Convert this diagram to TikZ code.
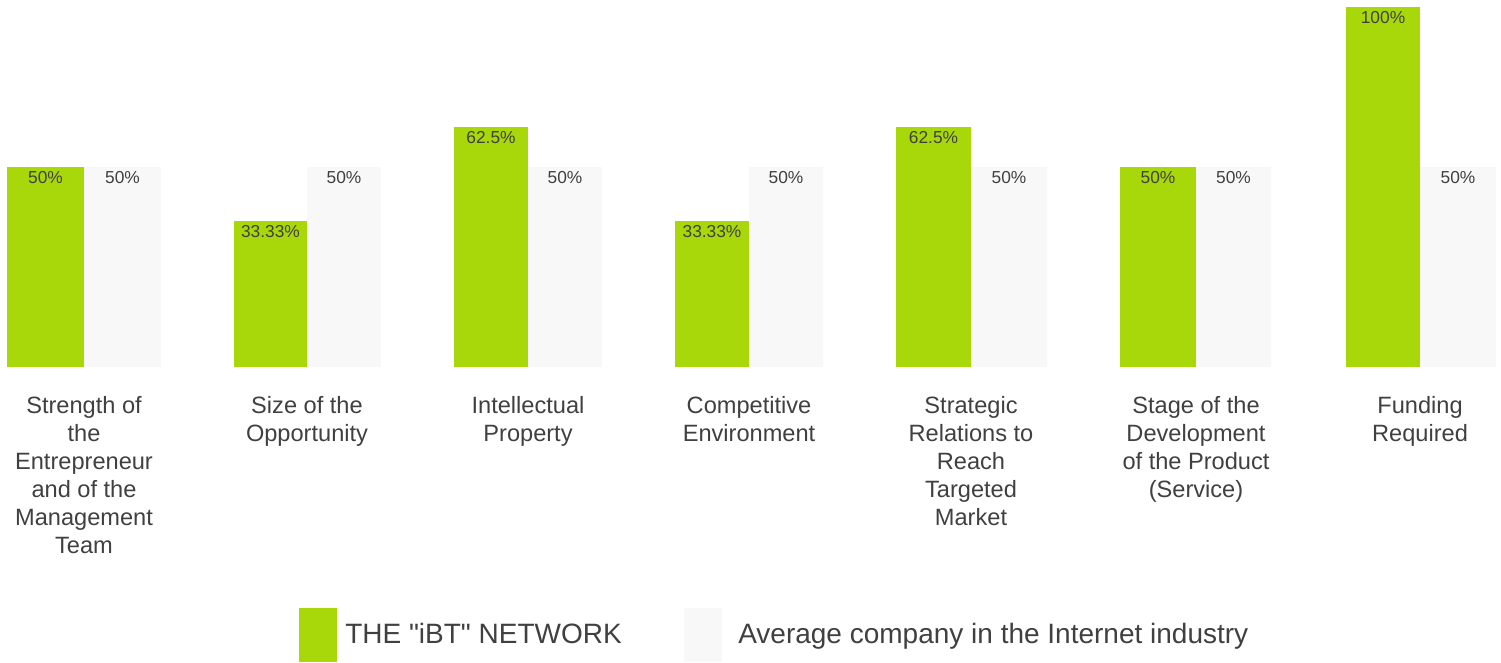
\documentclass[tikz,border=0pt]{standalone}
\usepackage{fontspec}
\setmainfont{Liberation Sans}
\usepackage{tikz}
\usetikzlibrary{positioning}
\definecolor{ibtgreen}{RGB}{169,216,10}
\definecolor{avggrey}{RGB}{248,248,248}
\definecolor{labelgrey}{RGB}{64,64,64}
\tikzstyle{ibtbar} = [fill=ibtgreen, draw=none]
\tikzstyle{avgbar} = [fill=avggrey, draw=none]
\tikzstyle{value} = [text=labelgrey, font=\fontsize{13}{15}\selectfont, inner sep=0pt]
\tikzstyle{category} = [text=labelgrey, font=\fontsize{17.7}{21}\selectfont, align=center, anchor=north, inner sep=0pt]
\tikzstyle{legendtext} = [text=labelgrey, font=\fontsize{21}{25}\selectfont, anchor=base west, inner sep=0pt]

\begin{document}
\begin{tikzpicture}[x=0.75pt, y=-0.75pt]
	\useasboundingbox (0,0) rectangle (1501,662);
	% bars: left edge / middle / right edge / top of green bar / green value / category
	\foreach \i/\gl/\m/\gr/\gtop/\gval/\cat in {
		1/7/84/161/167/50\%/{Strength of\\the\\Entrepreneur\\and of the\\Management\\Team},
		2/234/307/381/221/33.33\%/{Size of the\\Opportunity},
		3/454/528/602/127/62.5\%/{Intellectual\\Property},
		4/675/749/823/221/33.33\%/{Competitive\\Environment},
		5/896/971/1047/127/62.5\%/{Strategic\\Relations to\\Reach\\Targeted\\Market},
		6/1120/1196/1271/167/50\%/{Stage of the\\Development\\of the Product\\(Service)},
		7/1346/1420/1496/7/100\%/{Funding\\Required}}
	{
		\fill[ibtbar] (\gl,367) rectangle (\m,\gtop);
		\fill[avgbar] (\m,367) rectangle (\gr,167);
		\node (ibtval\i) [value] at ({(\gl+\m)/2},\gtop+11) {\gval};
		\node (avgval\i) [value] at ({(\m+\gr)/2},178) {50\%};
		\node (cat\i) [category] at (\m,396) {\cat};
	}

	\node (ibtkey) [ibtbar, minimum width=28.5pt, minimum height=40.5pt, inner sep=0pt, anchor=north west] at (299,608) {};
	\node (ibtname) [legendtext] at (345,643) {THE \textquotedbl iBT\textquotedbl{} NETWORK};
	\node (avgkey) [avgbar, minimum width=28.5pt, minimum height=40.5pt, inner sep=0pt, anchor=north west] at (684,608) {};
	\node (avgname) [legendtext] at (738,643) {Average company in the Internet industry};
\end{tikzpicture}
\end{document}
